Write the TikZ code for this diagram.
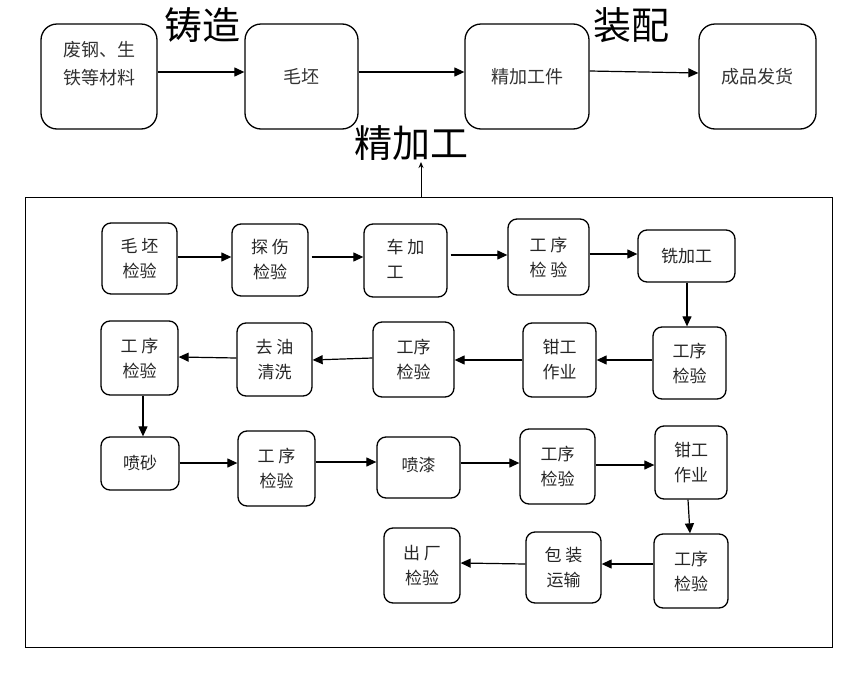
\documentclass[tikz,border=0pt]{standalone}
\usepackage{fontspec}
\setmainfont{Noto Sans CJK SC}
\usetikzlibrary{arrows.meta}
\begin{document}
\begin{tikzpicture}[x=1pt,y=-1pt,
  topbox/.style={draw, line width=1.3pt, rounded corners=16pt, align=center, inner sep=0pt,
     font=\fontsize{18}{28}\selectfont, text=black!80},
  ibox/.style={draw, line width=1.3pt, rounded corners=9pt, align=center, inner sep=0pt,
     font=\fontsize{17}{25}\selectfont, text=black!85},
  bigtxt/.style={font=\fontsize{38}{40}\selectfont, inner sep=0pt},
  arr/.style={line width=1.2pt, -{Triangle[length=10pt,width=9pt]}},
  thinarr/.style={line width=1pt, -{Stealth[length=6pt,width=5pt]}},
  frame/.style={draw, line width=1pt}
]
\useasboundingbox (0,0) rectangle (860,683);
\fill[white] (0,0) rectangle (860,683);

% top row
\node[topbox, minimum width=116pt, minimum height=105pt] (A) at (99,76.5) {};
\node[inner sep=0pt, align=center, font=\fontsize{18}{28}\selectfont, text=black!80] (At) at (99,64) {废钢、生\\铁等材料};
\node[topbox, minimum width=113pt, minimum height=105pt] (B) at (301.5,76.5) {毛坯};
\node[topbox, minimum width=124pt, minimum height=105pt] (C) at (527,76.5) {精加工件};
\node[topbox, minimum width=117pt, minimum height=105pt] (D) at (757.5,76.5) {成品发货};

\node[bigtxt] (L1) at (202,25) {铸造};
\node[bigtxt] (L2) at (631,25) {装配};
\node[bigtxt] (L3) at (411,143) {精加工};

\draw[arr] (A.east |- 0,72) -- (B.west |- 0,72);
\draw[arr] (B.east |- 0,72) -- (C.west |- 0,72);
\draw[arr] (C.east |- 0,71) -- (D.west |- 0,73);

% frame
\node[frame, minimum width=807pt, minimum height=450pt, inner sep=0pt] (F) at (428.5,422) {};
\coordinate (up1) at (421,197);
\coordinate (up2) at (421,162);
\draw[thinarr] (up1) -- (up2);

% row 1
\node[ibox, minimum width=75pt, minimum height=71pt] (n1) at (139.5,258.5) {毛 坯\\检验};
\node[ibox, minimum width=76pt, minimum height=72pt] (n2) at (270,260) {探 伤\\检验};
\node[ibox, minimum width=83pt, minimum height=73pt] (n3) at (405.5,260.5) {\begin{tabular}{@{}l@{}}车 加\\工\end{tabular}};
\node[ibox, minimum width=81pt, minimum height=76pt] (n4) at (548.5,257) {工 序\\检 验};
\node[ibox, minimum width=97pt, minimum height=52pt] (n5) at (686.5,256) {铣加工};
% row 2
\node[ibox, minimum width=73pt, minimum height=72pt] (n6) at (689.5,363) {工序\\检验};
\node[ibox, minimum width=73pt, minimum height=74pt] (n7) at (559.5,360) {钳工\\作业};
\node[ibox, minimum width=81pt, minimum height=75pt] (n8) at (413.5,359.5) {工序\\检验};
\node[ibox, minimum width=75pt, minimum height=73pt] (n9) at (274.5,359.5) {去 油\\清洗};
\node[ibox, minimum width=77pt, minimum height=74pt] (n10) at (139.5,358) {工 序\\检验};
% row 3
\node[ibox, minimum width=78pt, minimum height=53pt] (n11) at (140,463.5) {喷砂};
\node[ibox, minimum width=77pt, minimum height=75pt] (n12) at (276.5,468.5) {工 序\\检验};
\node[ibox, minimum width=83pt, minimum height=61pt, text height=17pt, text depth=10pt] (n13) at (418.5,467.5) {喷漆};
\node[ibox, minimum width=75pt, minimum height=75pt] (n14) at (557.5,466.5) {工序\\检验};
\node[ibox, minimum width=72pt, minimum height=73pt] (n15) at (691,462.5) {钳工\\作业};
% row 4
\node[ibox, minimum width=74pt, minimum height=74pt] (n16) at (691,571) {工序\\检验};
\node[ibox, minimum width=75pt, minimum height=71pt] (n17) at (563.5,567.5) {包 装\\运输};
\node[ibox, minimum width=76pt, minimum height=75pt] (n18) at (422,565.5) {出 厂\\检验};

% arrows
\draw[arr] (n1.east |- 0,257) -- (n2.west |- 0,257);
\draw[arr] ([xshift=3pt]n2.east |- 0,257) -- (n3.west |- 0,257);
\draw[arr] ([xshift=3pt]n3.east |- 0,255) -- (n4.west |- 0,255);
\draw[arr] (n4.east |- 0,254) -- (n5.west |- 0,254);
\draw[arr] (n5.south -| 687,0) -- (n6.north -| 687,0);
\draw[arr] (n6.west |- 0,360) -- (n7.east |- 0,360);
\draw[arr] (n7.west |- 0,360) -- (n8.east |- 0,360);
\draw[arr] (n8.west |- 0,358) -- (n9.east |- 0,360);
\draw[arr] (n9.west |- 0,358) -- (n10.east |- 0,357);
\draw[arr] (n10.south -| 143,0) -- (n11.north -| 143,0);
\draw[arr] (n11.east |- 0,463) -- (n12.west |- 0,463);
\draw[arr] (n12.east |- 0,462) -- (n13.west |- 0,462);
\draw[arr] (n13.east |- 0,463) -- (n14.west |- 0,463);
\draw[arr] (n14.east |- 0,465) -- (n15.west |- 0,465);
\draw[arr] (n15.south -| 688,0) -- (n16.north -| 690,0);
\draw[arr] (n16.west |- 0,564) -- (n17.east |- 0,564);
\draw[arr] (n17.west |- 0,564) -- (n18.east |- 0,563);
\end{tikzpicture}
\end{document}
